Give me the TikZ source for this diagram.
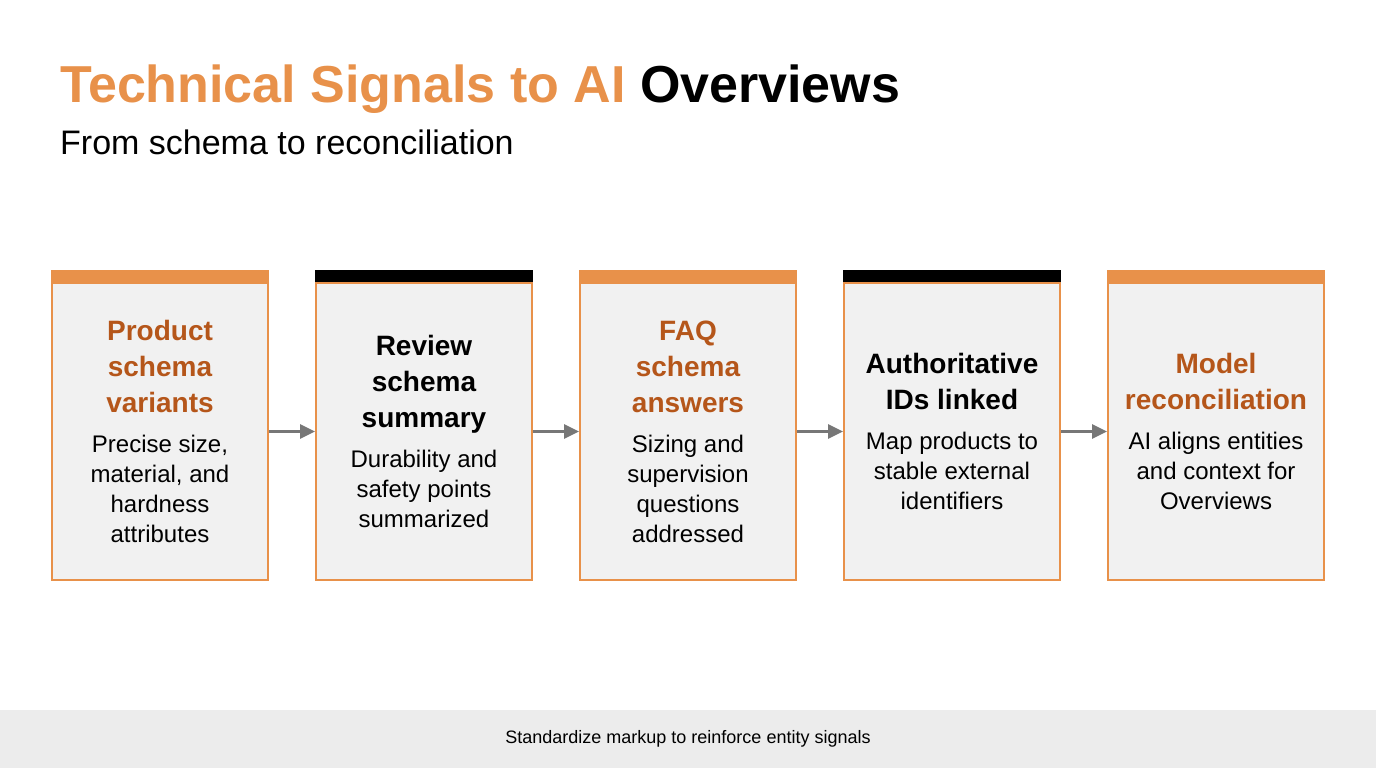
\documentclass[tikz,border=0pt]{standalone}
\usepackage{fontspec}
\setmainfont{Liberation Sans}
\usetikzlibrary{positioning, arrows.meta}
\definecolor{accent}{HTML}{E8914A}
\definecolor{accentdark}{HTML}{B5561A}
\definecolor{boxfill}{HTML}{F1F1F1}
\definecolor{footfill}{HTML}{ECECEC}
\definecolor{arrowgray}{HTML}{777777}
\tikzstyle{stepbox} = [rectangle, minimum width=216pt, minimum height=297pt, inner sep=0pt, draw=accent, line width=2pt, fill=boxfill]
\tikzstyle{bar} = [rectangle, minimum width=218pt, minimum height=12pt, inner sep=0pt]
\tikzstyle{arrow} = [draw=arrowgray, line width=3pt, -{Triangle[length=15pt,width=14pt]}]
\newcommand{\stepcontent}[3]{\parbox{206pt}{\centering
  {\fontsize{28}{36}\selectfont\bfseries\color{#1}#2\par}\vspace{10pt}%
  {\fontsize{24}{30}\selectfont #3\par}}}

\begin{document}
\begin{tikzpicture}[x=1pt, y=-1pt]
	\useasboundingbox (0,0) rectangle (1376,768);
	
	\fill[footfill] (0,710) rectangle (1376,768);
	\node (footer) at (688,739) {\fontsize{18}{20}\selectfont Standardize markup to reinforce entity signals};
	
	\node (title) [anchor=base west, inner sep=0pt] at (60,102) {\fontsize{52}{56}\selectfont\bfseries\textcolor{accent}{Technical Signals to AI} Overviews};
	\node (subtitle) [anchor=base west, inner sep=0pt] at (60,154) {\fontsize{34}{38}\selectfont From schema to reconciliation};
	
	\node (b1) [stepbox] at (160,431.5) {\stepcontent{accentdark}{Product\\schema\\variants}{Precise size,\\material, and\\hardness\\attributes}};
	\node (b2) [stepbox, right=46pt of b1] {\stepcontent{black}{Review\\schema\\summary}{Durability and\\safety points\\summarized}};
	\node (b3) [stepbox, right=46pt of b2] {\stepcontent{accentdark}{FAQ\\schema\\answers}{Sizing and\\supervision\\questions\\addressed}};
	\node (b4) [stepbox, right=46pt of b3] {\stepcontent{black}{Authoritative\\IDs linked}{Map products to\\stable external\\identifiers}};
	\node (b5) [stepbox, right=46pt of b4] {\stepcontent{accentdark}{Model\\reconciliation}{AI aligns entities\\and context for\\Overviews}};
	
	\node (bar1) [bar, fill=accent, above=0pt of b1] {};
	\node (bar2) [bar, fill=black, above=0pt of b2] {};
	\node (bar3) [bar, fill=accent, above=0pt of b3] {};
	\node (bar4) [bar, fill=black, above=0pt of b4] {};
	\node (bar5) [bar, fill=accent, above=0pt of b5] {};
	
	\draw [arrow] (b1) -- (b2);
	\draw [arrow] (b2) -- (b3);
	\draw [arrow] (b3) -- (b4);
	\draw [arrow] (b4) -- (b5);
	
\end{tikzpicture}
\end{document}
